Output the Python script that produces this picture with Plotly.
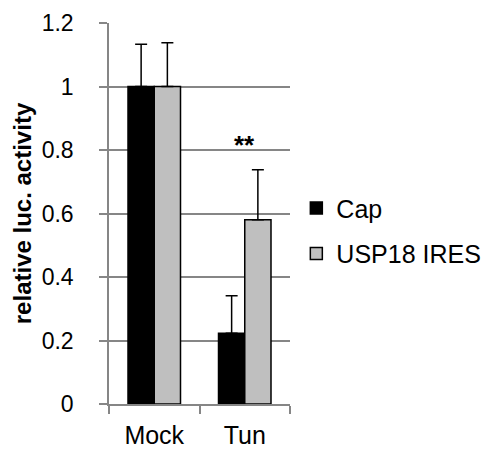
import plotly.graph_objects as go

categories = ["Mock", "Tun"]
cap_values = [1.0, 0.223]
cap_errors = [0.133, 0.118]
ires_values = [1.0, 0.58]
ires_errors = [0.138, 0.158]
series_names = ["Cap", "USP18 IRES"]
y_ticks = [0, 0.2, 0.4, 0.6, 0.8, 1.0, 1.2]
y_tick_labels = ["0", "0.2", "0.4", "0.6", "0.8", "1", "1.2"]
sig_label = "**"
sig_category = "Tun"
sig_y = 0.815

FONT = "Liberation Sans, Arial, sans-serif"
GRID = "#868686"

fig = go.Figure()
fig.add_trace(go.Bar(
    x=categories, y=cap_values, name=series_names[0],
    marker=dict(color="#000000", line=dict(color="#000000", width=1.5)),
    error_y=dict(type="data", symmetric=False, array=cap_errors, arrayminus=[0, 0],
                 color="#000000", thickness=1.5, width=6),
    legendgroup="a",
))
fig.add_trace(go.Bar(
    x=categories, y=ires_values, name=series_names[1],
    marker=dict(color="#BFBFBF", line=dict(color="#000000", width=1.5)),
    error_y=dict(type="data", symmetric=False, array=ires_errors, arrayminus=[0, 0],
                 color="#000000", thickness=1.5, width=6),
    legendgroup="b",
))

fig.add_annotation(x=sig_category, y=sig_y, text="<b>" + sig_label + "</b>", showarrow=False,
                   font=dict(family=FONT, size=26, color="#000000"),
                   yanchor="middle", xanchor="center")

fig.update_layout(
    width=495, height=444,
    margin=dict(l=101, r=213, t=15, b=48, pad=0, autoexpand=False),
    paper_bgcolor="white", plot_bgcolor="white",
    barmode="group", bargap=0.42, bargroupgap=0,
    font=dict(family=FONT, color="#000000"),
    showlegend=True,
    legend=dict(x=1.035, y=0.455, xanchor="left", yanchor="middle",
                font=dict(family=FONT, size=25, color="#000000"),
                tracegroupgap=10, traceorder="grouped",
                bgcolor="rgba(0,0,0,0)", itemwidth=30),
    xaxis=dict(
        type="category", showline=True, linecolor=GRID, linewidth=1.5,
        ticks="outside", tickson="boundaries", ticklen=8, tickcolor=GRID, tickwidth=1.5,
        tickfont=dict(family=FONT, size=25, color="#000000"),
        ticklabelstandoff=8,
        showgrid=False, zeroline=False, automargin=False,
    ),
    yaxis=dict(
        range=[0, 1.2], tickvals=y_ticks, ticktext=y_tick_labels,
        showline=True, linecolor=GRID, linewidth=1.5,
        ticks="outside", ticklen=8, tickcolor=GRID, tickwidth=1.5,
        ticklabelstandoff=21,
        showgrid=True, gridcolor=GRID, gridwidth=1.5, zeroline=False,
        tickfont=dict(family=FONT, size=23, color="#000000"),
        automargin=False,
        title=dict(text="<b>relative luc. activity</b>", standoff=3,
                   font=dict(family=FONT, size=24, color="#000000")),
    ),
)

fig.write_html("out.html")
